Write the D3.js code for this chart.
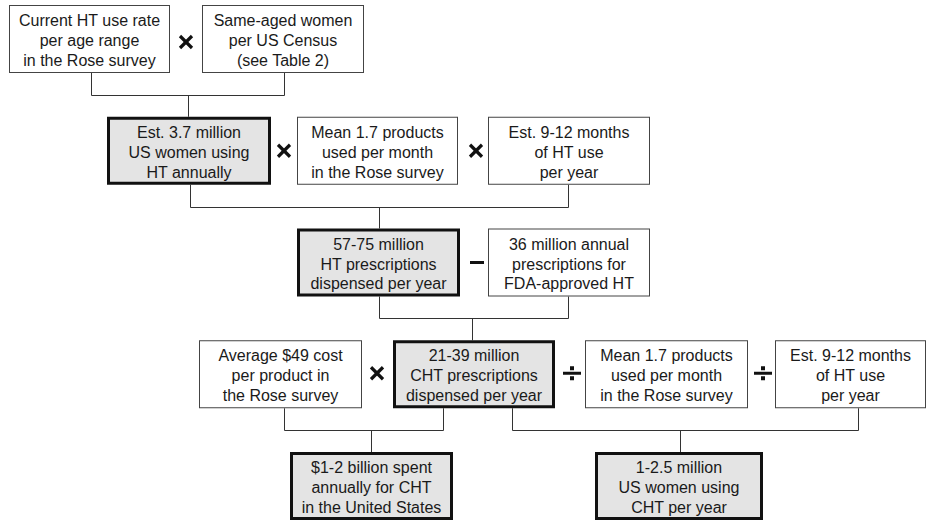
<!DOCTYPE html>
<html>
<head>
<meta charset="utf-8">
<script src="https://cdn.jsdelivr.net/npm/d3@7"></script>
<style>
  body { margin: 0; background: #fff; }
  svg { display: block; }
  text { font-family: "Liberation Sans", Arial, sans-serif; fill: #1a1a1a; }
</style>
</head>
<body>
<svg id="chart" width="927" height="523"></svg>
<script>
// box texts, one array per step of the calculation
const sourceLabels = [
  ["Current HT use rate", "per age range", "in the Rose survey"],
  ["Same-aged women", "per US Census", "(see Table 2)"]
];
const womenLabels = [
  ["Est. 3.7 million", "US women using", "HT annually"],
  ["Mean 1.7 products", "used per month", "in the Rose survey"],
  ["Est. 9-12 months", "of HT use", "per year"]
];
const rxLabels = [
  ["57-75 million", "HT prescriptions", "dispensed per year"],
  ["36 million annual", "prescriptions for", "FDA-approved HT"]
];
const chtLabels = [
  ["Average $49 cost", "per product in", "the Rose survey"],
  ["21-39 million", "CHT prescriptions", "dispensed per year"],
  ["Mean 1.7 products", "used per month", "in the Rose survey"],
  ["Est. 9-12 months", "of HT use", "per year"]
];
const resultLabels = [
  ["$1-2 billion spent", "annually for CHT", "in the United States"],
  ["1-2.5 million", "US women using", "CHT per year"]
];
const rowLabels = [sourceLabels, womenLabels, rxLabels, chtLabels, resultLabels];
// which boxes are computed results (bold, shaded)
const resultFlags = [[0, 0], [1, 0, 0], [1, 0], [0, 1, 0, 0], [1, 1]];
// operators between boxes: [row, after box index, symbol]
const operators = [[0, 0, "x"], [1, 0, "x"], [1, 1, "x"], [2, 0, "-"], [3, 0, "x"], [3, 1, "/"], [3, 2, "/"]];

// ---- layout (pixels) ----
const boxX = [
  [[9, 161], [202, 162]],
  [[107, 164], [297, 161], [488, 162]],
  [[297, 163], [488, 162]],
  [[199, 163], [393, 162], [585, 163], [775, 151]],
  [[290, 163], [595, 168]]
];
const opX = [[186], [284, 476], [477], [377, 572, 763]];
const opDy = [3, 0, 0, -1];
// connectors: [row of parents, [parent x's], drop x]
const links = [
  [0, [91, 284], 188],
  [1, [190, 568], 379],
  [2, [379, 568], 472],
  [3, [284, 443], 371],
  [3, [512, 858], 680]
];
const boxH = 68;
const y = d3.scaleLinear().domain([0, 4]).range([5, 452]);

const svg = d3.select("#chart");

// connectors first, under the boxes
const gl = svg.append("g").attr("stroke", "#333").attr("fill", "none").attr("stroke-width", 1);
links.forEach(l => {
  const r = l[0], top = y(r) + boxH, midY = Math.round((top + y(r + 1)) / 2) + 0.5;
  const xs = l[1];
  xs.forEach(px => {
    gl.append("line").attr("x1", px + 0.5).attr("x2", px + 0.5).attr("y1", top).attr("y2", midY);
  });
  gl.append("line").attr("x1", d3.min(xs) + 0.5).attr("x2", d3.max(xs) + 0.5).attr("y1", midY).attr("y2", midY);
  gl.append("line").attr("x1", l[2] + 0.5).attr("x2", l[2] + 0.5).attr("y1", midY).attr("y2", y(r + 1));
});

// boxes
rowLabels.forEach((row, r) => {
  row.forEach((lines, i) => {
    const [bx, bw] = boxX[r][i];
    const bold = resultFlags[r][i] === 1;
    const sw = bold ? 3 : 1;
    const g = svg.append("g");
    g.append("rect")
      .attr("x", bx + sw / 2).attr("y", y(r) + sw / 2)
      .attr("width", bw - sw).attr("height", boxH - sw)
      .attr("fill", bold ? "#e4e4e4" : "#fff")
      .attr("stroke", bold ? "#111" : "#444")
      .attr("stroke-width", sw);
    const cy = y(r) + boxH / 2 + 1.5;
    g.selectAll("text").data(lines).enter().append("text")
      .attr("x", bx + bw / 2)
      .attr("y", (d, k) => cy + (k - 1) * 19.8)
      .attr("text-anchor", "middle")
      .attr("dominant-baseline", "central")
      .attr("font-size", 16)
      .text(d => d);
  });
});

// operator symbols drawn as shapes
operators.forEach(([r, i, sym]) => {
  const ox = opX[r][i];
  const oy = y(r) + boxH / 2 + opDy[r];
  const g = svg.append("g").attr("stroke", "#111").attr("fill", "#111");
  if (sym === "x") {
    g.append("line").attr("x1", ox - 6).attr("y1", oy - 6).attr("x2", ox + 6).attr("y2", oy + 6).attr("stroke-width", 3.2);
    g.append("line").attr("x1", ox - 6).attr("y1", oy + 6).attr("x2", ox + 6).attr("y2", oy - 6).attr("stroke-width", 3.2);
  } else if (sym === "-") {
    g.append("line").attr("x1", ox - 7).attr("x2", ox + 7).attr("y1", oy).attr("y2", oy).attr("stroke-width", 3);
  } else {
    g.append("line").attr("x1", ox - 9).attr("x2", ox + 9).attr("y1", oy).attr("y2", oy).attr("stroke-width", 3);
    g.append("rect").attr("x", ox - 2).attr("y", oy - 7).attr("width", 4).attr("height", 4).attr("stroke", "none");
    g.append("rect").attr("x", ox - 2).attr("y", oy + 3).attr("width", 4).attr("height", 4).attr("stroke", "none");
  }
});
</script>
</body>
</html>
